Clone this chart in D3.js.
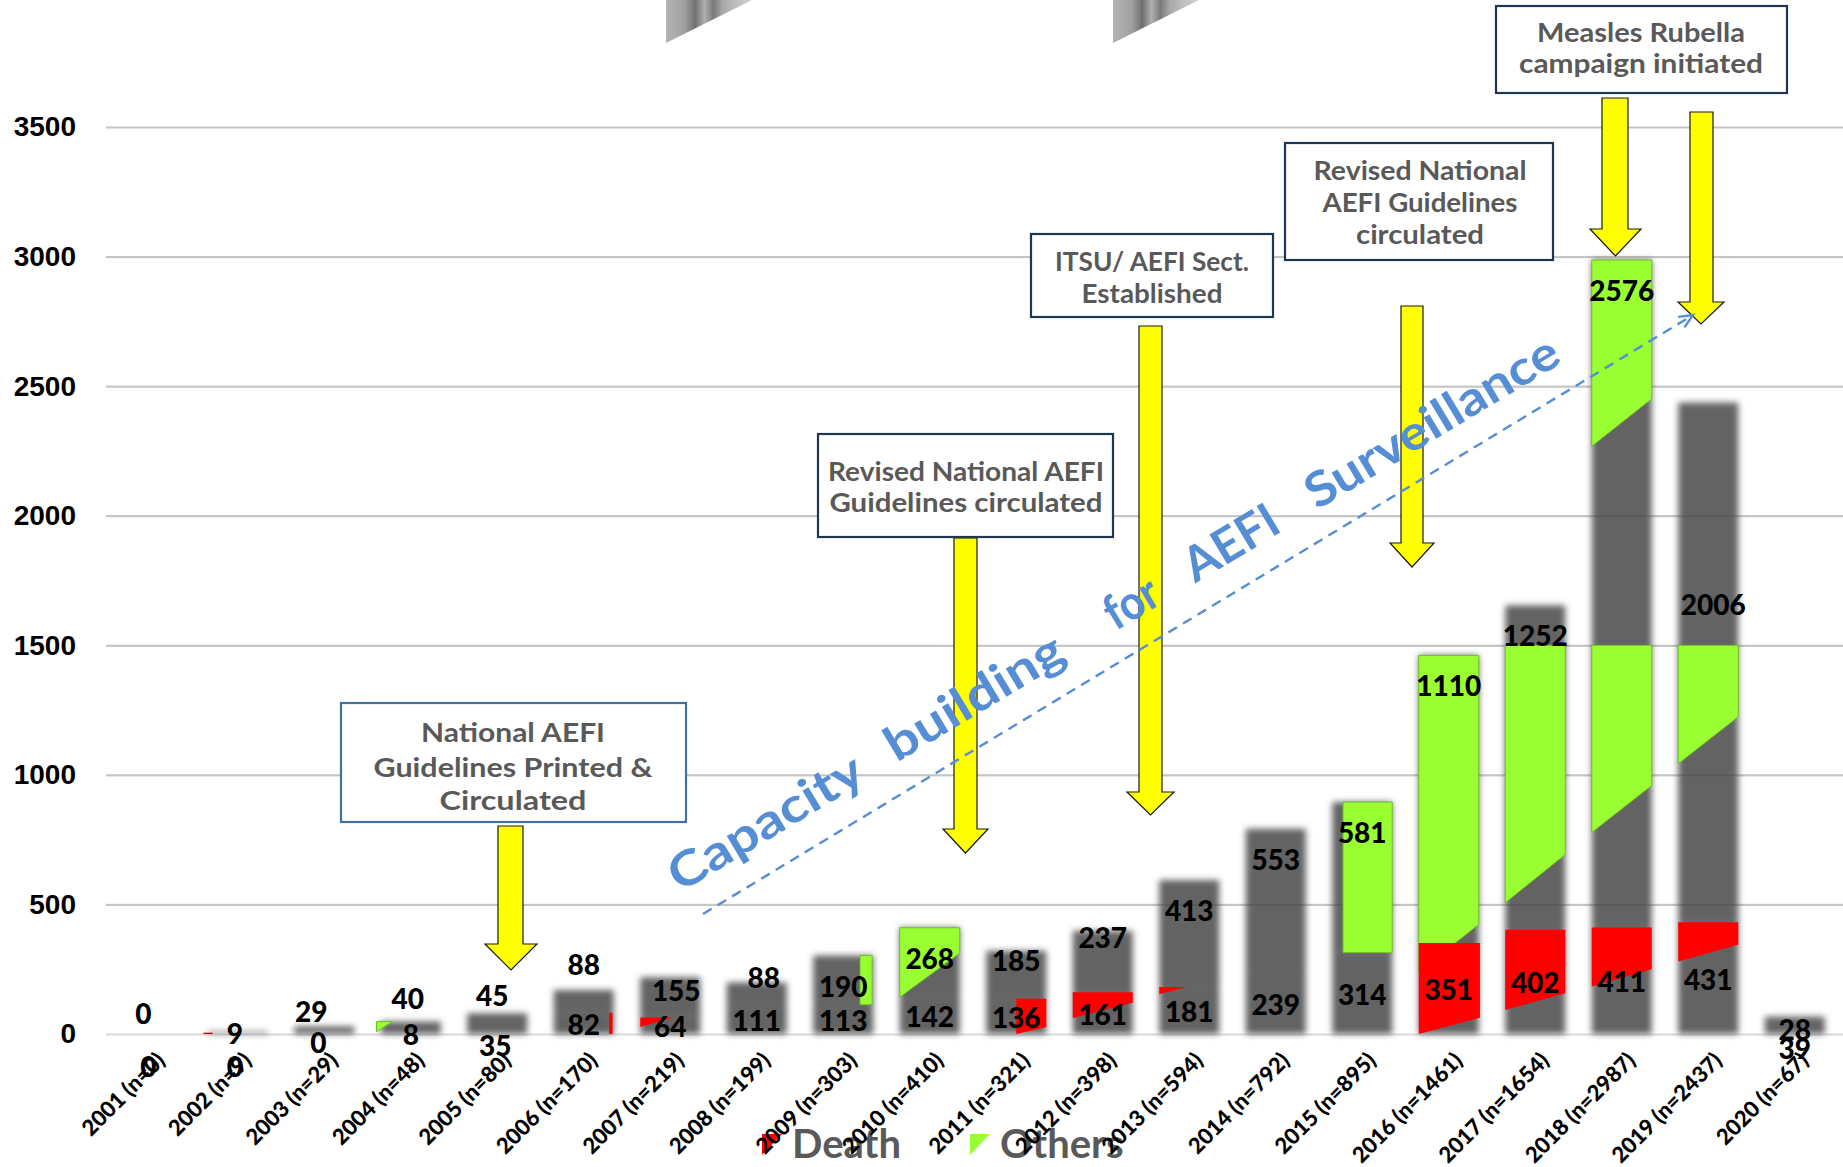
<!DOCTYPE html>
<html>
<head>
<meta charset="utf-8">
<script src="https://cdn.jsdelivr.net/npm/d3@7"></script>
<style>
  html, body { margin: 0; padding: 0; background: #fff; }
  svg { display: block; }
</style>
</head>
<body>
<svg id="chart" width="1843" height="1167"></svg>
<script>
// ---- data -------------------------------------------------------------
const years  = ['2001','2002','2003','2004','2005','2006','2007','2008','2009','2010',
                '2011','2012','2013','2014','2015','2016','2017','2018','2019','2020'];
const deaths = [0, 0, 0, 8, 35, 82, 64, 111, 113, 142, 136, 161, 181, 239, 314, 351, 402, 411, 431, 39];
const others = [0, 9, 29, 40, 45, 88, 155, 88, 190, 268, 185, 237, 413, 553, 581, 1110, 1252, 2576, 2006, 28];
const totals = [0, 9, 29, 48, 80, 170, 219, 199, 303, 410, 321, 398, 594, 792, 895, 1461, 1654, 2987, 2437, 67];
const yTicks = [0, 500, 1000, 1500, 2000, 2500, 3000, 3500];

// coloured slices over the grey columns, in cases:
// [year, start of band, end of band, bottom left, bottom right, top left, top right]
const otherSlices = [
  ['2004', -0.07, 0.20,    9,   48,   48,   48],
  ['2009',  0.78, 0.98,  113,  113,  303,  303],
  ['2010',  0.00, 1.00,  142,  312,  410,  410],
  ['2015',  0.18, 1.00,  314,  314,  895,  895],
  ['2016',  0.00, 1.00,  240,  423, 1461, 1461],
  ['2017',  0.00, 1.00,  506,  693, 1500, 1500],
  ['2018',  0.00, 1.00,  778,  959, 1500, 1500],
  ['2018',  0.00, 1.00, 2268, 2451, 2987, 2987],
  ['2019',  0.00, 1.00, 1043, 1224, 1500, 1500]
];
const deathSlices = [
  ['2002', -0.07, 0.08,    0,    0,    5,    5],
  ['2006',  0.92, 0.98,    0,    0,   82,   82],
  ['2007',  0.00, 0.55,   27,   64,   64,   64],
  ['2011',  0.50, 1.00,    0,   27,  136,  136],
  ['2012',  0.00, 1.00,   62,  121,  161,  161],
  ['2013',  0.00, 0.45,  153,  181,  181,  181],
  ['2016',  0.00, 1.02,    0,   63,  351,  351],
  ['2017',  0.00, 1.00,   93,  157,  402,  402],
  ['2018',  0.00, 1.00,  183,  250,  411,  411],
  ['2019',  0.00, 1.00,  280,  344,  431,  431]
];

// label nudges in px [dx, dy] where the default spot would collide
const otherLabelNudge = {
  '2001': [-8, -51], '2002': [-3, -29], '2003': [-13, -46], '2004': [-3, -54],
  '2005': [-5, -48], '2006': [0, -56], '2007': [6, -17], '2008': [7, -36],
  '2011': [0, -21], '2012': [0, -24], '2019': [5, 171], '2020': [0, -18]
};
const deathLabelNudge = {
  '2001': [-3, 31], '2002': [-3, 31], '2003': [-6, 7], '2005': [-2, 15], '2020': [0, 18]
};

// milestone call-outs: box, text lines [text, baseline, width]
const milestones = [
  { box: [341, 703, 345, 119], stroke: '#41719c', cx: 513,
    lines: [['National AEFI', 742, 184], ['Guidelines Printed &', 777, 279], ['Circulated', 810, 147]] },
  { box: [818, 434, 295, 103], stroke: '#1f3550', cx: 966,
    lines: [['Revised National AEFI', 481, 276], ['Guidelines circulated', 512, 273]] },
  { box: [1031, 234, 242, 83], stroke: '#1f3550', cx: 1152,
    lines: [['ITSU/ AEFI Sect.', 271, 194], ['Established', 303, 141]] },
  { box: [1285, 143, 268, 117], stroke: '#1f3550', cx: 1420,
    lines: [['Revised National', 180, 213], ['AEFI Guidelines', 212, 195], ['circulated', 244, 128]] },
  { box: [1496, 6, 291, 87], stroke: '#1f3550', cx: 1641,
    lines: [['Measles Rubella', 42, 208], ['campaign initiated', 73, 244]] }
];
// block arrows: [shaft left, shaft right, top, head base, tip, head left, head right]
const arrows = [
  [498, 523, 826, 944, 970, 485, 537],
  [954, 977, 538, 829, 853, 943, 988],
  [1139, 1162, 326, 792, 815, 1127, 1174],
  [1401, 1423, 306, 543, 567, 1390, 1434],
  [1602, 1628, 98, 229, 256, 1590, 1641],
  [1690, 1713, 112, 302, 324, 1678, 1724]
];
// trend caption words: [word, distance along the line, width]
const trendWords = [['Capacity', 0, 219], ['building', 253, 200], ['for', 508, 56],
                    ['AEFI', 601, 103], ['Surveillance', 743, 288]];

// ---- layout -----------------------------------------------------------
const W = 1843, H = 1167;
const svg = d3.select('#chart');
const NUM_FONT = 'Lato, "Noto Sans", "Liberation Sans", sans-serif';

const x = d3.scaleBand().domain(years).range([108, 1838]).paddingInner(0.306).paddingOuter(0.153);
const y = d3.scaleLinear().domain([0, 3500]).range([1034, 127]);
const bw = x.bandwidth();
const cx = yr => x(yr) + bw / 2;

const defs = svg.append('defs');
defs.append('filter').attr('id', 'soft')
  .attr('filterUnits', 'userSpaceOnUse').attr('x', 0).attr('y', 0).attr('width', W).attr('height', H)
  .append('feGaussianBlur').attr('stdDeviation', 3);

const stripe = defs.append('linearGradient').attr('id', 'stripe').attr('x1', 0).attr('x2', 1).attr('y1', 0).attr('y2', 0);
[[0, '#b4b4b4'], [0.22, '#a0a0a0'], [0.34, '#707070'], [0.45, '#b0b0b0'], [0.55, '#7a7a7a'],
 [0.66, '#a8a8a8'], [0.8, '#bdbdbd'], [1, '#cfcfcf']]
  .forEach(([o, c]) => stripe.append('stop').attr('offset', o).attr('stop-color', c));

// ---- grid + y axis ----------------------------------------------------
const yAxis = d3.axisLeft(y).tickValues(yTicks).tickSize(-(W - 106)).tickPadding(30).tickFormat(d3.format('d'));
const gy = svg.append('g').attr('transform', 'translate(106,0)').call(yAxis);
gy.select('.domain').remove();
gy.selectAll('.tick line').attr('stroke', '#d9d9d9').attr('stroke-width', 2.2);
gy.selectAll('.tick text')
  .attr('fill', '#000').attr('font-size', 28).attr('font-weight', 700)
  .attr('font-family', '"Liberation Sans", Arial, sans-serif');

// ---- grey stacked columns (soft edged) --------------------------------
const rows = years.map((yr, i) => ({ yr, d: deaths[i], o: others[i], n: totals[i] }));
const bars = svg.append('g').attr('filter', 'url(#soft)');
bars.selectAll('rect.death').data(rows.filter(r => r.d > 0)).join('rect')
  .attr('x', r => x(r.yr)).attr('width', bw)
  .attr('y', r => y(r.d)).attr('height', r => y(0) - y(r.d))
  .attr('fill', '#636363');
bars.selectAll('rect.other').data(rows.filter(r => r.o > 0)).join('rect')
  .attr('x', r => x(r.yr)).attr('width', bw)
  .attr('y', r => y(r.d + r.o)).attr('height', r => y(r.d) - y(r.d + r.o))
  .attr('fill', '#636363');

// grid seen faintly through the columns
const gy2 = svg.append('g').attr('transform', 'translate(106,0)')
  .call(d3.axisLeft(y).tickValues(yTicks.slice(1)).tickSize(-(W - 106)).tickFormat(''));
gy2.select('.domain').remove();
gy2.selectAll('.tick line').attr('stroke', 'rgba(0,0,0,0.09)').attr('stroke-width', 2);

// ---- coloured slices --------------------------------------------------
const slicePath = ([yr, f0, f1, lo0, lo1, hi0, hi1]) => {
  const x0 = x(yr) + f0 * bw, x1 = x(yr) + f1 * bw;
  return `M${x0},${y(lo0)}L${x1},${y(lo1)}L${x1},${y(hi1)}L${x0},${y(hi0)}Z`;
};
svg.append('g').selectAll('path').data(otherSlices).join('path')
  .attr('d', slicePath).attr('fill', '#99ff33').attr('stroke', '#6fbf2a').attr('stroke-width', 1);
svg.append('g').selectAll('path').data(deathSlices).join('path')
  .attr('d', slicePath).attr('fill', d => d[0] === '2002' ? '#b00000' : '#ff0000');

// ---- value labels -----------------------------------------------------
const lbl = svg.append('g').attr('font-family', NUM_FONT).attr('font-weight', 900)
  .attr('font-size', 28).attr('fill', '#000').attr('text-anchor', 'middle');
lbl.selectAll('text.dl').data(rows).join('text')
  .attr('x', r => cx(r.yr) + (deathLabelNudge[r.yr] || [0, 0])[0])
  .attr('y', r => y(r.d / 2) + 1.5 + (deathLabelNudge[r.yr] || [0, 0])[1])
  .attr('dy', '0.36em').text(r => r.d);
lbl.selectAll('text.ol').data(rows).join('text')
  .attr('x', r => cx(r.yr) + (otherLabelNudge[r.yr] || [0, 0])[0])
  .attr('y', r => y(r.n) + 31 + (otherLabelNudge[r.yr] || [0, 0])[1])
  .attr('dy', '0.36em').text(r => r.o);

// ---- legend -----------------------------------------------------------
const leg = svg.append('g');
[['Death', '#ff0000', 762, 792], ['Others', '#99ff33', 970, 1000]].forEach(([t, c, ix, tx]) => {
  leg.append('path').attr('d', `M${ix},1134L${ix + 20},1134L${ix},1155Z`).attr('fill', c);
  leg.append('text').attr('x', tx).attr('y', 1158).text(t)
    .attr('font-family', NUM_FONT).attr('font-weight', 700).attr('font-size', 40).attr('fill', '#595959');
});

// ---- x axis labels ----------------------------------------------------
svg.append('g').selectAll('text').data(rows).join('text')
  .attr('transform', r => `translate(${cx(r.yr) + 15},1062) rotate(-45)`)
  .attr('text-anchor', 'end')
  .attr('font-family', NUM_FONT).attr('font-weight', 900).attr('font-size', 22).attr('fill', '#000')
  .text(r => `${r.yr} (n=${r.n})`);

// ---- decorative wedges along the top edge -----------------------------
svg.append('g').selectAll('path').data([666, 1113]).join('path')
  .attr('d', d => `M${d},0L${d + 86},0L${d},43Z`).attr('fill', 'url(#stripe)');

// ---- milestone arrows and boxes ----------------------------------------
svg.append('g').selectAll('path').data(arrows).join('path')
  .attr('d', ([s0, s1, top, hb, tip, h0, h1]) =>
    `M${s0},${top}L${s1},${top}L${s1},${hb}L${h1},${hb}L${(h0 + h1) / 2},${tip}L${h0},${hb}L${s0},${hb}Z`)
  .attr('fill', '#ffff00').attr('stroke', '#1a1a1a').attr('stroke-width', 1.2);

const mg = svg.append('g');
milestones.forEach(m => {
  const [bx, by, bwid, bh] = m.box;
  mg.append('rect').attr('x', bx).attr('y', by).attr('width', bwid).attr('height', bh)
    .attr('fill', '#fff').attr('stroke', m.stroke).attr('stroke-width', 2.2);
  m.lines.forEach(([t, base, len]) => {
    mg.append('text').attr('x', m.cx).attr('y', base).attr('text-anchor', 'middle')
      .attr('textLength', len).attr('lengthAdjust', 'spacingAndGlyphs')
      .attr('font-family', NUM_FONT).attr('font-weight', 700).attr('font-size', 27).attr('fill', '#595959')
      .text(t);
  });
});

// ---- capacity-building trend ------------------------------------------
const trend = svg.append('g');
const start = [703, 914], end = [1693, 315];
const ang = Math.atan2(end[1] - start[1], end[0] - start[0]);
trend.append('line').attr('x1', start[0]).attr('y1', start[1]).attr('x2', end[0]).attr('y2', end[1])
  .attr('stroke', '#558ed5').attr('stroke-width', 2.4).attr('stroke-dasharray', '10,7');
const ah = 15, aw = 0.42;
trend.append('path')
  .attr('d', `M${end[0] - ah * Math.cos(ang - aw)},${end[1] - ah * Math.sin(ang - aw)}L${end[0]},${end[1]}L${end[0] - ah * Math.cos(ang + aw)},${end[1] - ah * Math.sin(ang + aw)}`)
  .attr('fill', 'none').attr('stroke', '#558ed5').attr('stroke-width', 2.4);

const textAng = -31, tx0 = 680, ty0 = 893;
trend.selectAll('text').data(trendWords).join('text')
  .attr('transform', ([, d]) => {
    const r = textAng * Math.PI / 180;
    return `translate(${tx0 + d * Math.cos(r)},${ty0 + d * Math.sin(r)}) rotate(${textAng})`;
  })
  .attr('textLength', d => d[2]).attr('lengthAdjust', 'spacingAndGlyphs')
  .attr('font-family', NUM_FONT).attr('font-weight', 700).attr('font-size', 48).attr('fill', '#558ed5')
  .text(d => d[0]);
</script>
</body>
</html>
